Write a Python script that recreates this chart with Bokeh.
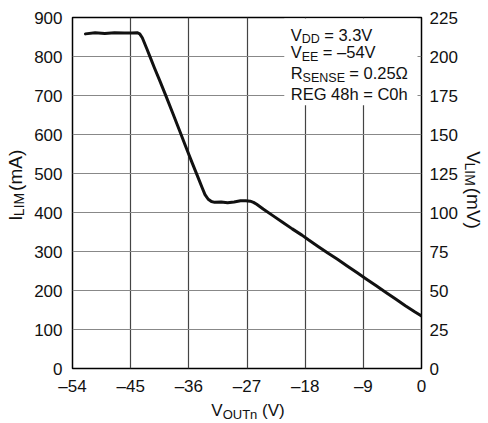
import math
from bokeh.plotting import figure
from bokeh.models import Range1d, LinearAxis, FixedTicker, Label, BoxAnnotation
from bokeh.layouts import row, column
from bokeh.core.properties import value
from bokeh.embed import file_html
from bokeh.resources import INLINE

# ---- data ----
vout = [-52, -50.5, -49, -47.5, -46, -44.8, -44.0, -43.6, -43.2, -42.5, -42, -41.3, -40.5,
        -39.5, -38.5, -37.5, -36.5, -35.5, -34.5, -34.0, -33.5, -33.0, -32.5, -32, -31, -30,
        -29, -28, -27.2, -26.5, -26, -25.5, -24.5, -23, -21.5, -20, -18.5, -17.5, -16, -14.5,
        -13, -11.5, -10, -8.5, -7, -5.5, -4, -2.5, -1, 0]
ilim = [858, 861, 859, 861, 860, 860, 861, 858, 848, 820, 799, 770, 738,
        697, 655, 613, 570, 528, 487, 466, 446, 434, 428, 426, 427, 425,
        427, 430, 430, 429, 426, 421, 409, 392, 375, 358, 342, 330, 313, 296,
        280, 263, 246, 229, 212, 195, 178, 161, 145, 135]

x_ticks = [-54, -45, -36, -27, -18, -9, 0]
x_tick_labels = ["\u201354", "\u201345", "\u201336", "\u201327", "\u201318", "\u20139", "0"]
i_ticks = [0, 100, 200, 300, 400, 500, 600, 700, 800, 900]
v_ticks = [0, 25, 50, 75, 100, 125, 150, 175, 200, 225]

notes = [
    [("V", 0), ("DD", 1), (" = 3.3V", 0)],
    [("V", 0), ("EE", 1), (" = \u201354V", 0)],
    [("R", 0), ("SENSE", 1), (" = 0.25\u03a9", 0)],
    [("REG 48h = C0h", 0)],
]
x_label = [("V", 0), ("OUTn", 1), (" (V)", 0)]
left_label = [("I", 0), ("LIM", 1), (" (mA)", 0)]
right_label = [("V", 0), ("LIM", 1), (" (mV)", 0)]

FONT = "Liberation Sans"
INK = "#111111"
MID = 0.36   # cap-height centre above the baseline, in em

# page geometry
PW, PH = 488, 423
FL, FR, FT, FB = 72, 423, 17, 369        # plot frame on the page
LS, RS, BS = 30, 460, 398                 # left strip end, right strip start, bottom strip start

WID = {"A": .667, "C": .722, "D": .722, "E": .667, "G": .778, "I": .278, "L": .556,
       "M": .833, "N": .722, "O": .778, "R": .722, "S": .667, "T": .611, "U": .722,
       "V": .667, "h": .556, "m": .833, "n": .556, " ": .278, "=": .584, ".": .278,
       "(": .333, ")": .333, "\u2013": .556, "\u03a9": .768}

def tw(s, size):
    return sum(WID.get(c, .556) for c in s) * size

def piece(s, size):
    lead = len(s) - len(s.lstrip(" "))
    return s.lstrip(" "), tw(" " * lead, size)

# ---- main plot ----
p = figure(width=RS - LS, height=BS, x_range=Range1d(-54, 0), y_range=Range1d(0, 900),
           output_backend="svg", toolbar_location=None, title=None,
           min_border_left=FL - LS, min_border_right=RS - FR, min_border_top=FT,
           min_border_bottom=BS - FB)
p.background_fill_color = "white"
p.border_fill_color = "white"
p.outline_line_color = "black"
p.outline_line_width = 1.5

p.extra_y_ranges = {"v": Range1d(0, 225)}
raxis = LinearAxis(y_range_name="v")
p.add_layout(raxis, "right")

for ax in [p.xaxis[0], p.yaxis[0], raxis]:
    ax.axis_line_color = None
    ax.major_tick_line_color = None
    ax.minor_tick_line_color = None
    ax.major_tick_out = 0
    ax.major_tick_in = 0
    ax.major_label_text_font = FONT
    ax.major_label_text_font_size = "17px"
    ax.major_label_text_color = INK
p.yaxis[0].major_label_standoff = 10
raxis.major_label_standoff = 8
p.xaxis[0].major_label_standoff = 8

p.xaxis[0].ticker = FixedTicker(ticks=x_ticks)
p.xaxis[0].major_label_overrides = dict(zip(x_ticks, x_tick_labels))
p.yaxis[0].ticker = FixedTicker(ticks=i_ticks)
raxis.ticker = FixedTicker(ticks=v_ticks)

p.xgrid.ticker = FixedTicker(ticks=x_ticks)
p.ygrid.ticker = FixedTicker(ticks=i_ticks)
p.xgrid.grid_line_color = "#444444"
p.ygrid.grid_line_color = "#888888"
p.xgrid.grid_line_width = 1.2
p.ygrid.grid_line_width = 1.2

p.line(vout, ilim, line_color=INK, line_width=3, line_join="round", line_cap="round")

def xd(xp):
    return -54 + (xp - FL) * 54 / (FR - FL)

def yd(yp):
    return (FB - yp) * 900 / (FB - FT)

p.add_layout(BoxAnnotation(left=xd(285), right=xd(419), top=yd(18), bottom=yd(105),
                           fill_color="white", fill_alpha=1, line_color=None))

MAIN, SUB = 16.5, 12.5
baselines = [40, 58, 79, 100]
for line, base in zip(notes, baselines):
    x = 291.5
    for s, is_sub in line:
        size = SUB if is_sub else MAIN
        txt, pad = piece(s, size)
        yb = base + (3.5 if is_sub else 0)
        p.add_layout(Label(x=xd(x + pad), y=yd(yb - MID * size), text=txt,
                           text_font=FONT, text_font_size=f"{size}px", text_color=INK,
                           text_align="left", text_baseline="middle"))
        x += tw(s, size)

# ---- label strips (their own frames so nothing is clipped) ----
def strip(w, h):
    s = figure(width=w, height=h, x_range=Range1d(0, w), y_range=Range1d(0, h),
               output_backend="svg", toolbar_location=None, title=None, min_border=0,
               x_axis_type=None, y_axis_type=None)
    s.outline_line_color = None
    s.background_fill_color = "white"
    s.border_fill_color = "white"
    return s

def put(s, txt, x, y, size, angle):
    s.text(x=[x], y=[y], text=[txt], text_font=value(FONT), text_font_size=value(f"{size}px"),
           text_color=INK, angle=angle, text_align="left", text_baseline="middle")

# left: I_LIM (mA), reading upwards (glyph tops point left)
F, f = 19, 14
ls = strip(LS, BS)
ymid = BS - (FT + FB) / 2
total = sum(tw(s_, f if sb else F) for s_, sb in left_label)
y = ymid - total / 2
for s_, sb in left_label:
    sz = f if sb else F
    txt, pad = piece(s_, sz)
    xb = 22 + (2 if sb else 0)
    put(ls, txt, xb - MID * sz, y + pad, sz, math.pi / 2)
    y += tw(s_, sz)

# right: V_LIM (mV), reading downwards (glyph tops point right)
rs = strip(PW - RS, BS)
total = sum(tw(s_, f if sb else F) for s_, sb in right_label)
y = ymid + total / 2
for s_, sb in right_label:
    sz = f if sb else F
    txt, pad = piece(s_, sz)
    xb = 466 - RS - (2 if sb else 0)
    put(rs, txt, xb + MID * sz, y - pad, sz, -math.pi / 2)
    y -= tw(s_, sz)

# bottom: V_OUTn (V)
F, f = 17, 13
bs = strip(PW, PH - BS)
total = sum(tw(s_, f if sb else F) for s_, sb in x_label)
x = (FL + FR) / 2 - total / 2
for s_, sb in x_label:
    sz = f if sb else F
    txt, pad = piece(s_, sz)
    yb = 416 + (3 if sb else 0)
    put(bs, txt, x + pad, PH - (yb - MID * sz), sz, 0.0)
    x += tw(s_, sz)

layout = column(row(ls, p, rs, spacing=0), bs, spacing=0)
open("out.html", "w").write(file_html(layout, INLINE))
